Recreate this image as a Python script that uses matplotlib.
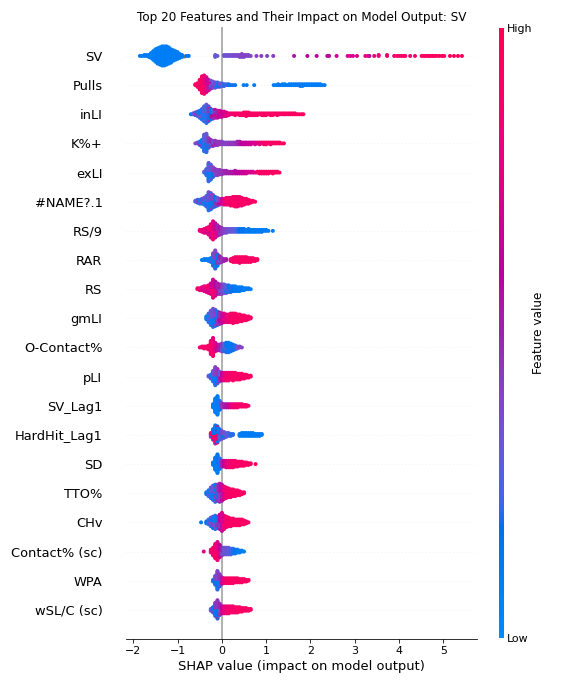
import math
import numpy as np
import matplotlib
matplotlib.use("Agg")
import matplotlib.pyplot as plt
from matplotlib.colors import LinearSegmentedColormap
from matplotlib.cm import ScalarMappable

nan = float("nan")

features = ["SV", "Pulls", "inLI", "K%+", "exLI", "#NAME?.1", "RS/9", "RAR", "RS",
            "gmLI", "O-Contact%", "pLI", "SV_Lag1", "HardHit_Lag1", "SD", "TTO%",
            "CHv", "Contact% (sc)", "WPA", "wSL/C (sc)"]

# (SHAP value, number of samples, feature value 0..1 (or a pair of values mixed))
SV = [(-1.85, 1, .08), (-1.80, 1, .08), (-1.75, 2, .08), (-1.70, 2, .1), (-1.65, 3, .08),
      (-1.60, 6, .08), (-1.55, 10, .08), (-1.50, 14, .08), (-1.45, 17, .1), (-1.40, 19, .08),
      (-1.35, 21, .1), (-1.30, 21, .08), (-1.25, 20, .1), (-1.20, 18, .08), (-1.15, 15, .1),
      (-1.10, 12, .1), (-1.05, 10, .08), (-1.00, 8, .1), (-0.95, 5, .1), (-0.90, 3, .12),
      (-0.86, 1, nan), (-0.80, 1, .12), (-0.75, 1, .15),
      (-0.15, 3, .32), (-0.10, 1, .3), (0.05, 2, .33), (0.10, 2, .35), (0.15, 2, .33),
      (0.20, 2, .36), (0.25, 2, .35), (0.30, 2, .38), (0.35, 2, .36), (0.40, 3, .38),
      (0.45, 4, .4), (0.50, 3, .38), (0.55, 2, .4), (0.60, 2, .38), (0.65, 1, .4),
      (0.78, 1, .4), (0.89, 1, .42), (1.02, 1, .4), (1.16, 1, .42),
      (1.63, 1, .55), (1.93, 1, .6), (2.14, 1, .6), (2.38, 1, .62), (2.42, 1, .6),
      (2.59, 1, .65), (2.84, 1, .7), (2.90, 1, .72), (2.96, 1, .7), (3.05, 1, .75),
      (3.24, 1, .78), (3.30, 1, .8), (3.33, 1, .65), (3.44, 1, .8), (3.54, 2, .82),
      (3.73, 2, .85), (3.89, 1, .88), (3.95, 1, .9), (4.00, 1, .88), (4.05, 1, .9),
      (4.10, 1, .92), (4.14, 1, .9), (4.25, 1, .88), (4.36, 1, .9), (4.51, 1, .92),
      (4.56, 1, .9), (4.60, 1, .92), (4.65, 1, .93), (4.69, 1, .9), (4.72, 1, .95),
      (4.76, 1, .92), (4.80, 1, .93), (4.85, 1, .95), (4.91, 1, .92), (4.97, 1, .95),
      (5.02, 1, .93), (5.15, 1, .95), (5.24, 1, .95), (5.33, 1, .96), (5.42, 1, .95)]

PULLS = [(-0.60, 2, .9), (-0.55, 5, .9), (-0.50, 12, .92), (-0.45, 20, (.9, .95)),
         (-0.40, 22, (.92, .8)), (-0.35, 18, (.85, .7)), (-0.30, 13, (.7, .5)),
         (-0.25, 10, (.55, .35)), (-0.20, 8, (.45, .3)), (-0.15, 7, (.35, .2)),
         (-0.10, 6, (.3, .15)), (-0.05, 5, (.35, .15)), (0.00, 4, .3), (0.05, 3, .2),
         (0.10, 2, .25), (0.15, 2, .15), (0.20, 1, .15), (0.25, 1, .2), (0.30, 1, .12),
         (0.49, 1, .1), (0.56, 1, .1), (0.73, 1, .1),
         (1.17, 1, .1), (1.22, 1, .1), (1.27, 2, .1), (1.32, 1, .12), (1.37, 2, .1),
         (1.42, 2, .1), (1.47, 1, .12), (1.52, 2, .1), (1.57, 2, .1), (1.62, 2, .1),
         (1.67, 2, .12), (1.72, 2, .1), (1.77, 3, (.1, .25)), (1.82, 3, .1), (1.87, 2, .12),
         (1.92, 2, .1), (1.97, 2, .1), (2.02, 2, .1), (2.07, 2, .1), (2.12, 2, .12),
         (2.17, 2, .1), (2.22, 2, .1), (2.27, 1, .1), (2.32, 1, .1)]

INLI = [(-0.70, 1, .15), (-0.65, 2, .3), (-0.60, 4, (.15, .4)), (-0.55, 6, (.1, .4)),
        (-0.50, 9, (.1, .35)), (-0.45, 13, (.1, .3)), (-0.40, 18, (.08, .35)),
        (-0.35, 22, (.08, .3)), (-0.30, 18, (.1, .45)), (-0.25, 13, (.15, .55)),
        (-0.20, 11, (.3, .6)), (-0.15, 10, (.4, .65)), (-0.10, 9, (.5, .7)),
        (-0.05, 8, (.55, .75)), (0.00, 7, .65), (0.05, 6, .7), (0.10, 5, .75), (0.15, 3, .8),
        (0.20, 2, .85), (0.25, 2, .88), (0.30, 3, .9), (0.35, 2, .88), (0.40, 3, .9),
        (0.45, 3, .9), (0.50, 4, .92), (0.55, 5, .9), (0.60, 4, .92), (0.65, 3, .9),
        (0.70, 3, .92), (0.75, 3, .9), (0.80, 3, .92), (0.85, 2, .9), (0.90, 3, .92),
        (0.95, 3, .9), (1.00, 3, .93), (1.05, 2, .9), (1.10, 3, .92), (1.15, 3, .93),
        (1.20, 2, .9), (1.25, 3, .92), (1.30, 2, .93), (1.35, 2, .9), (1.40, 2, .92),
        (1.45, 2, .93), (1.50, 2, .9), (1.55, 2, .93), (1.60, 2, .92), (1.65, 2, .93),
        (1.70, 1, .9), (1.75, 1, .93), (1.80, 1, .92), (1.84, 1, .95)]

KPCT = [(-0.60, 1, .35), (-0.55, 2, .4), (-0.50, 5, (.2, .45)), (-0.45, 9, (.1, .4)),
        (-0.40, 20, (.08, .3)), (-0.35, 22, (.1, .35)), (-0.30, 12, (.2, .45)),
        (-0.25, 8, (.3, .5)), (-0.20, 7, (.35, .5)), (-0.15, 6, (.4, .5)), (-0.10, 5, .45),
        (-0.05, 4, .45), (0.00, 4, .42), (0.05, 3, .42), (0.10, 3, .4), (0.15, 3, .42),
        (0.20, 3, .45), (0.25, 3, .42), (0.30, 3, .45), (0.35, 4, .48), (0.40, 4, .55),
        (0.45, 3, .6), (0.50, 3, .62), (0.55, 3, .65), (0.60, 3, .68), (0.65, 3, .65),
        (0.70, 2, .7), (0.75, 3, .72), (0.80, 2, .75), (0.85, 3, .8), (0.90, 2, .85),
        (0.95, 3, .88), (1.00, 3, .9), (1.05, 2, .9), (1.10, 3, .92), (1.15, 2, .9),
        (1.20, 2, .92), (1.25, 2, .93), (1.30, 2, .92), (1.35, 1, .95), (1.40, 1, .93)]

EXLI = [(-0.40, 2, .3), (-0.35, 8, (.1, .35)), (-0.30, 22, (.08, .3)), (-0.25, 18, (.08, .35)),
        (-0.20, 12, (.15, .4)), (-0.15, 8, (.3, .45)), (-0.10, 7, .42), (-0.05, 6, .45),
        (0.00, 5, .45), (0.05, 4, .48), (0.10, 4, .5), (0.15, 3, .52), (0.20, 3, .55),
        (0.25, 3, .55), (0.30, 4, .58), (0.35, 3, .6), (0.40, 3, .62), (0.45, 3, .65),
        (0.50, 3, .65), (0.55, 3, .68), (0.60, 2, .7), (0.65, 2, .7), (0.70, 2, .72),
        (0.75, 1, .75), (0.80, 2, .88), (0.85, 3, .9), (0.90, 3, .92), (0.95, 3, .9),
        (1.00, 3, .92), (1.05, 3, .93), (1.10, 2, .9), (1.15, 3, .93), (1.20, 2, .92),
        (1.25, 2, .95), (1.30, 1, .93)]

NAME1 = [(-0.60, 2, .3), (-0.55, 4, (.15, .4)), (-0.50, 5, (.1, .35)), (-0.45, 6, (.1, .4)),
         (-0.40, 8, (.08, .35)), (-0.35, 12, (.1, .35)), (-0.30, 20, (.08, .35)),
         (-0.25, 18, (.1, .4)), (-0.20, 14, (.12, .4)), (-0.15, 11, (.15, .45)),
         (-0.10, 9, (.3, .5)), (-0.05, 7, (.4, .6)), (0.00, 6, .65), (0.05, 7, .75),
         (0.10, 8, (.8, .9)), (0.15, 8, .88), (0.20, 9, (.85, .92)), (0.25, 10, .9),
         (0.30, 11, (.88, .93)), (0.35, 11, .9), (0.40, 10, (.85, .92)), (0.45, 9, .9),
         (0.50, 7, .92), (0.55, 6, .9), (0.60, 5, .88), (0.65, 3, .92), (0.70, 2, .9),
         (0.75, 1, .9)]

RS9 = [(-0.50, 2, .85), (-0.45, 3, .8), (-0.40, 5, (.9, .7)), (-0.35, 6, (.85, .7)),
       (-0.30, 9, (.9, .75)), (-0.25, 15, (.85, .7)), (-0.20, 20, (.9, .75)),
       (-0.15, 16, (.8, .65)), (-0.10, 12, (.7, .5)), (-0.05, 9, (.55, .45)), (0.00, 7, .45),
       (0.05, 5, .4), (0.10, 5, .38), (0.15, 4, .35), (0.20, 4, .32), (0.25, 4, .3),
       (0.30, 4, .28), (0.35, 4, .22), (0.40, 4, .18), (0.45, 4, .15), (0.50, 4, .15),
       (0.55, 3, .12), (0.60, 4, .12), (0.65, 3, .12), (0.70, 3, .1), (0.75, 3, .12),
       (0.80, 3, .1), (0.85, 3, .1), (0.90, 3, .12), (0.95, 2, .1), (1.00, 2, .1),
       (1.05, 1, .1), (1.15, 1, .1)]

RAR = [(-0.45, 1, .12), (-0.40, 2, .1), (-0.35, 2, .12), (-0.30, 3, .1), (-0.25, 5, (.1, .3)),
       (-0.20, 14, (.08, .35)), (-0.15, 20, (.1, .4)), (-0.10, 13, (.15, .45)),
       (-0.05, 8, (.3, .5)), (0.00, 5, .45), (0.05, 3, .5), (0.10, 2, .55),
       (0.20, 3, .88), (0.25, 5, .9), (0.30, 6, .92), (0.35, 6, .9), (0.40, 7, .92),
       (0.45, 6, .9), (0.50, 6, .93), (0.55, 6, .9), (0.60, 5, .92), (0.65, 5, .9),
       (0.70, 4, .93), (0.75, 3, .9), (0.80, 2, .92)]

RS = [(-0.55, 2, .85), (-0.50, 3, .9), (-0.45, 4, (.85, .7)), (-0.40, 6, (.9, .75)),
      (-0.35, 7, (.85, .7)), (-0.30, 9, (.9, .7)), (-0.25, 12, (.85, .65)),
      (-0.20, 20, (.9, .7)), (-0.15, 16, (.8, .6)), (-0.10, 12, (.7, .5)),
      (-0.05, 11, (.55, .4)), (0.00, 11, (.45, .35)), (0.05, 10, (.4, .3)),
      (0.10, 9, (.3, .2)), (0.15, 8, (.25, .15)), (0.20, 7, (.2, .12)), (0.25, 6, .15),
      (0.30, 6, .12), (0.35, 5, .12), (0.40, 5, .1), (0.45, 4, .12), (0.50, 3, .1),
      (0.55, 2, .1), (0.60, 2, .12), (0.65, 1, .1)]

GMLI = [(-0.35, 4, .1), (-0.30, 10, (.08, .3)), (-0.25, 16, (.08, .35)), (-0.20, 20, (.1, .35)),
        (-0.15, 18, (.12, .4)), (-0.10, 15, (.2, .45)), (-0.05, 13, (.45, .6)),
        (0.00, 11, (.55, .7)), (0.05, 10, (.65, .75)), (0.10, 9, .78), (0.15, 9, .82),
        (0.20, 10, (.85, .92)), (0.25, 11, .9), (0.30, 10, (.88, .93)), (0.35, 9, .9),
        (0.40, 8, .92), (0.45, 7, .9), (0.50, 6, .93), (0.55, 5, .9), (0.60, 4, .92),
        (0.65, 2, .9)]

OCONT = [(-0.50, 1, .85), (-0.45, 2, .9), (-0.40, 3, .88), (-0.35, 3, .9), (-0.30, 5, .9),
         (-0.25, 15, (.92, .85)), (-0.20, 20, (.9, .8)), (-0.15, 10, (.85, .7)),
         (-0.10, 7, (.7, .55)), (-0.05, 7, .5), (0.00, 9, (.45, .35)), (0.05, 9, (.3, .2)),
         (0.10, 11, (.15, .25)), (0.15, 11, .12), (0.20, 9, (.12, .2)), (0.25, 7, .15),
         (0.30, 5, .2), (0.35, 3, .35), (0.40, 2, .4), (0.45, 1, .4)]

PLI = [(-0.30, 2, .3), (-0.25, 5, (.1, .4)), (-0.20, 12, (.08, .35)), (-0.15, 20, (.1, .4)),
       (-0.10, 16, (.12, .45)), (-0.05, 11, (.3, .55)), (0.00, 9, (.6, .7)),
       (0.05, 9, (.7, .8)), (0.10, 9, .85), (0.15, 9, (.85, .92)), (0.20, 8, .9),
       (0.25, 9, .88), (0.30, 8, .9), (0.35, 7, .92), (0.40, 7, .9), (0.45, 6, .92),
       (0.50, 5, .9), (0.55, 4, .93), (0.60, 3, .9), (0.65, 2, .92)]

SVLAG = [(-0.20, 5, .1), (-0.15, 18, .08), (-0.10, 24, (.08, .12)), (-0.05, 12, (.1, .2)),
         (0.00, 6, .45), (0.05, 5, .5), (0.10, 5, .55), (0.15, 5, .65), (0.20, 5, .75),
         (0.25, 5, .82), (0.30, 5, .85), (0.35, 5, .88), (0.40, 4, .9), (0.45, 4, .88),
         (0.50, 3, .9), (0.55, 3, .92), (0.60, 1, .9)]

HHLAG = [(-0.25, 5, (.9, .2)), (-0.20, 12, (.92, .15)), (-0.15, 20, (.9, .12)),
         (-0.10, 18, (.85, .15)), (-0.05, 12, (.3, .15)), (0.00, 9, (.4, .2)),
         (0.05, 7, (.35, .15)), (0.10, 5, .3), (0.15, 4, .25), (0.20, 3, .2), (0.25, 2, .2),
         (0.40, 3, .1), (0.45, 4, .1), (0.50, 4, .12), (0.55, 4, .1), (0.60, 4, .1),
         (0.65, 4, .12), (0.70, 4, .1), (0.75, 3, .1), (0.80, 3, .12), (0.85, 3, .1),
         (0.90, 2, .1)]

SD = [(-0.20, 4, .12), (-0.15, 16, .1), (-0.10, 24, (.08, .15)), (-0.05, 14, (.1, .2)),
      (0.00, 8, .5), (0.05, 8, .6), (0.10, 9, .75), (0.15, 9, .82), (0.20, 9, (.85, .9)),
      (0.25, 9, .88), (0.30, 8, .9), (0.35, 7, .88), (0.40, 6, .9), (0.45, 6, .92),
      (0.50, 5, .9), (0.55, 4, .92), (0.60, 3, .9), (0.65, 2, .92), (0.76, 1, .95)]

TTO = [(-0.35, 3, .15), (-0.30, 7, (.1, .3)), (-0.25, 12, (.08, .35)), (-0.20, 16, (.1, .3)),
       (-0.15, 19, (.1, .4)), (-0.10, 18, (.2, .45)), (-0.05, 20, (.4, .55)),
       (0.00, 18, (.5, .65)), (0.05, 14, (.65, .8)), (0.10, 12, .85), (0.15, 10, (.85, .92)),
       (0.20, 9, .9), (0.25, 8, .92), (0.30, 7, .9), (0.35, 6, .92), (0.40, 5, .9),
       (0.45, 3, .93), (0.50, 2, .9)]

CHV = [(-0.47, 1, .12), (-0.35, 3, .15), (-0.30, 6, (.1, .3)), (-0.25, 10, (.1, .35)),
       (-0.20, 13, (.12, .4)), (-0.15, 15, (.1, .35)), (-0.10, 13, (.2, .45)),
       (-0.05, 16, (.45, .6)), (0.00, 20, (.55, .75)), (0.05, 15, (.7, .85)),
       (0.10, 12, .88), (0.15, 10, (.85, .92)), (0.20, 9, .9), (0.25, 8, .92), (0.30, 7, .9),
       (0.35, 7, .92), (0.40, 7, .9), (0.45, 6, .93), (0.50, 5, .9), (0.55, 3, .92),
       (0.60, 1, .9)]

CONTSC = [(-0.41, 1, .75), (-0.25, 4, .88), (-0.20, 9, (.9, .8)), (-0.15, 16, (.92, .85)),
          (-0.10, 20, (.9, .75)), (-0.05, 14, (.8, .6)), (0.00, 9, (.5, .4)),
          (0.05, 8, (.35, .3)), (0.10, 8, (.3, .35)), (0.15, 8, (.25, .3)), (0.20, 7, .25),
          (0.25, 6, .2), (0.30, 5, .15), (0.35, 4, .12), (0.40, 3, .1), (0.45, 2, .1),
          (0.50, 1, .1)]

WPA = [(-0.20, 3, .2), (-0.15, 12, (.1, .4)), (-0.10, 24, (.12, .4)), (-0.05, 16, (.2, .45)),
       (0.00, 9, (.55, .7)), (0.05, 7, .8), (0.10, 7, .88), (0.15, 7, .9), (0.20, 7, .92),
       (0.25, 7, .9), (0.30, 6, .92), (0.35, 6, .9), (0.40, 5, .93), (0.45, 5, .9),
       (0.50, 4, .92), (0.55, 3, .9), (0.60, 2, .93)]

WSLC = [(-0.25, 3, .3), (-0.20, 7, (.15, .4)), (-0.15, 16, (.12, .45)), (-0.10, 22, (.15, .45)),
        (-0.05, 14, (.3, .5)), (0.00, 9, (.6, .7)), (0.05, 9, .75), (0.10, 9, .82),
        (0.15, 9, (.85, .9)), (0.20, 8, .88), (0.25, 8, .9), (0.30, 7, .88), (0.35, 7, .9),
        (0.40, 6, .92), (0.45, 5, .9), (0.50, 4, .92), (0.55, 4, .9), (0.60, 3, .92),
        (0.65, 2, .9)]

rows = [SV, PULLS, INLI, KPCT, EXLI, NAME1, RS9, RAR, RS, GMLI, OCONT, PLI, SVLAG,
        HHLAG, SD, TTO, CHV, CONTSC, WPA, WSLC]


# ---- shap "red_blue" colormap (perceptual LCh ramp) ----
def lch2rgb(L, C, H):
    a = C * np.cos(H)
    b = C * np.sin(H)
    fy = (L + 16.0) / 116.0
    fx = fy + a / 500.0
    fz = fy - b / 200.0

    def finv(t):
        return t ** 3 if t > 6 / 29 else 3 * (6 / 29) ** 2 * (t - 4 / 29)

    X = 0.95047 * finv(fx)
    Y = finv(fy)
    Z = 1.08883 * finv(fz)
    M = np.array([[3.2406, -1.5372, -0.4986],
                  [-0.9689, 1.8758, 0.0415],
                  [0.0557, -0.2040, 1.0570]])
    rgb = M @ np.array([X, Y, Z])
    rgb = np.where(rgb <= 0.0031308, 12.92 * rgb, 1.055 * np.abs(rgb) ** (1 / 2.4) - 0.055)
    return np.clip(rgb, 0, 1)


blue_lch = [54., 70., 4.6588]
l_mid = 40.
red_lch = [54., 90., 0.35470565 + 2 * np.pi]
nsteps = 100
l_vals = list(np.linspace(blue_lch[0], l_mid, nsteps // 2)) + list(np.linspace(l_mid, red_lch[0], nsteps // 2))
c_vals = np.linspace(blue_lch[1], red_lch[1], nsteps)
h_vals = np.linspace(blue_lch[2], red_lch[2], nsteps)
cols = [lch2rgb(l, c, h) for l, c, h in zip(l_vals, c_vals, h_vals)]
cmap = LinearSegmentedColormap.from_list("red_blue", list(zip(np.linspace(0, 1, nsteps), cols)))

# ---- figure ----
W, H = 576, 684
fig = plt.figure(figsize=(W / 72, H / 72), dpi=72)
ax_top, ax_bot = 26.8, 639.0
ax = fig.add_axes([126 / W, (H - ax_bot) / H, 351 / W, (ax_bot - ax_top) / H])

n_feat = len(features)
row_height = 0.4
for i, (name, row) in enumerate(zip(features, rows)):
    pos = n_feat - 1 - i
    ax.axhline(y=pos, color="#cccccc", lw=0.5, dashes=(1, 5), zorder=-1)

    # group points by SHAP value and build a swarm layout like shap's beeswarm
    groups = {}
    for x, n, c in row:
        groups.setdefault(x, []).append((n, c))
    xs, ys, cs = [], [], []
    for x, entries in groups.items():
        seq = []
        for n, c in entries:
            for k in range(n):
                cv = c[k % 2] if isinstance(c, tuple) else c
                seq.append(((k + 0.5) / n, cv))
        seq.sort(key=lambda t: t[0])
        m = len(seq)
        layers = sorted(math.ceil(j / 2) * ((j % 2) * 2 - 1) for j in range(m))
        stride = max(1, int(round(m * 0.382)))
        while math.gcd(stride, m) != 1:
            stride += 1
        for idx, (_, cv) in enumerate(seq):
            xs.append(x)
            ys.append(layers[(idx * stride) % m])
            cs.append(cv)
    xs = np.array(xs, dtype=float)
    ys = np.array(ys, dtype=float)
    cs = np.array(cs, dtype=float)
    ys *= 0.9 * (row_height / np.max(ys + 1))
    nanm = np.isnan(cs)
    if nanm.any():
        ax.scatter(xs[nanm], pos + ys[nanm], color="#777777", s=16, alpha=1,
                   linewidth=0, zorder=3, rasterized=True)
    ax.scatter(xs[~nanm], pos + ys[~nanm], c=cs[~nanm], cmap=cmap, vmin=0, vmax=1,
               s=16, alpha=1, linewidth=0, zorder=3, rasterized=True)

ax.axvline(x=0, color="#999999", zorder=-1)
ax.set_xlim(-2.165, 5.76)
ax.set_ylim(-1, n_feat)
ax.set_yticks(range(n_feat))
ax.set_yticklabels(features[::-1], fontsize=13)
ax.xaxis.set_ticks_position("bottom")
ax.yaxis.set_ticks_position("none")
ax.tick_params("y", length=20, width=0.5, which="major")
ax.tick_params("x", labelsize=11)
for sp in ("right", "top", "left"):
    ax.spines[sp].set_visible(False)
ax.set_xlabel("SHAP value (impact on model output)", fontsize=13)
ax.set_title("Top 20 Features and Their Impact on Model Output: SV", fontsize=12)

# colorbar
cax = fig.add_axes([498.5 / W, (H - 638) / H, 5 / W, 610 / H])
sm = ScalarMappable(cmap=cmap)
sm.set_array([0, 1])
cb = fig.colorbar(sm, cax=cax, ticks=[0, 1])
cb.set_ticklabels(["Low", "High"])
cb.set_label("Feature value", size=12, labelpad=0)
cb.ax.tick_params(labelsize=11, length=0)
cb.outline.set_visible(False)

fig.savefig("out.png", dpi=72)
